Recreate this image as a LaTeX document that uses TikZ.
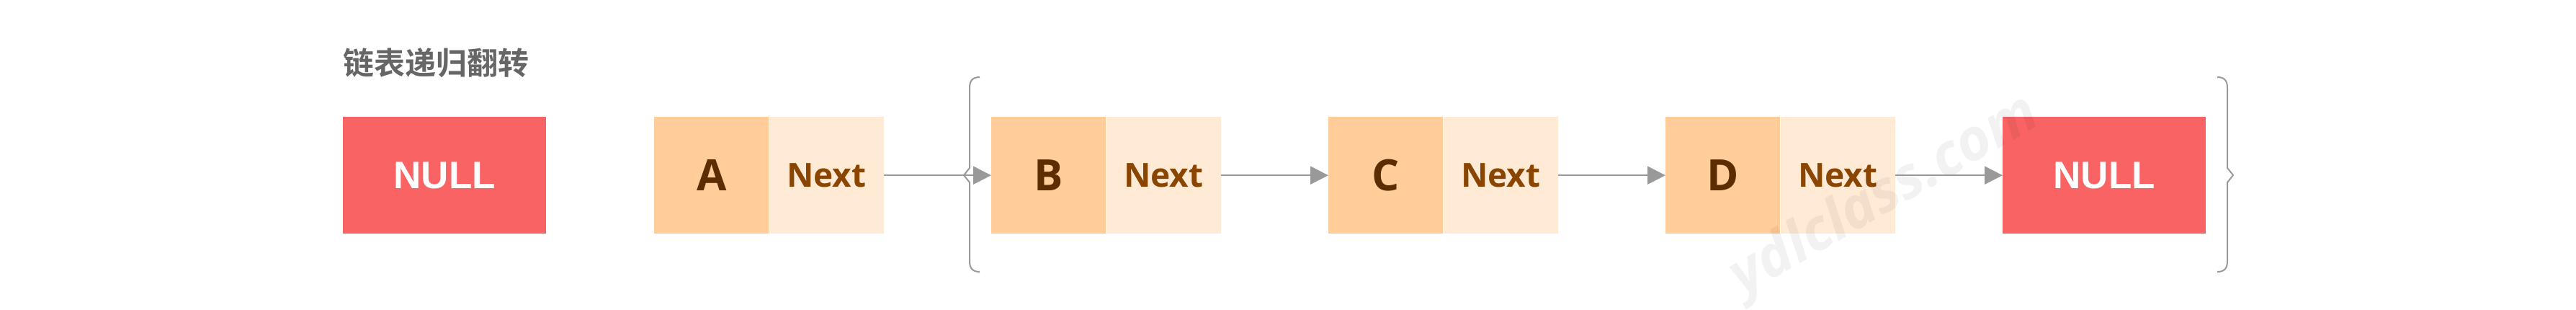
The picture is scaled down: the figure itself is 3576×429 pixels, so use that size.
\documentclass[tikz,border=0pt]{standalone}
\usepackage{fontspec}
\setmainfont{Open Sans}
\newfontfamily\cjkfont{Noto Sans CJK SC}[BoldFont=* Bold]
\newfontfamily\nulltextfont{Liberation Sans}
\usetikzlibrary{arrows.meta}
\definecolor{nullred}{HTML}{F96363}
\definecolor{keybg}{HTML}{FFCC9A}
\definecolor{nextbg}{HTML}{FFEAD6}
\definecolor{keytxt}{HTML}{5C2D00}
\definecolor{nexttxt}{HTML}{8A4500}
\definecolor{linegray}{HTML}{999999}
\definecolor{titlegray}{HTML}{666666}
\tikzset{
  keybox/.style={fill=keybg, draw=none, minimum width=159pt, minimum height=162pt, inner sep=0pt, anchor=north west, text=keytxt, font=\fontsize{60}{60}\selectfont\bfseries},
  nextbox/.style={fill=nextbg, draw=none, minimum width=159pt, minimum height=162pt, inner sep=0pt, anchor=west, text=nexttxt, font=\fontsize{46}{46}\selectfont\bfseries},
  nullbox/.style={fill=nullred, draw=none, minimum width=282pt, minimum height=162pt, inner sep=0pt, anchor=north west, text=white, font=\nulltextfont\fontsize{53}{53}\selectfont\bfseries},
  link/.style={draw=linegray, line width=2pt, -{Triangle[length=25pt, width=25pt]}},
  bracket/.style={draw=linegray, line width=2pt, line join=round},
}
\begin{document}
\begin{tikzpicture}[x=1pt, y=-1pt]
\useasboundingbox (0,0) rectangle (3576,429);
% title
\node[anchor=west, inner sep=0pt, text=titlegray, font=\cjkfont\fontsize{43}{43}\selectfont\bfseries] (title) at (476,87) {链表递归翻转};
% first NULL
\node[nullbox] (null1) at (476,162) {NULL};
% list nodes
\node[keybox] (a) at (908,162) {A};
\node[nextbox] (an) at (a.east) {Next};
\node[keybox] (b) at (1376,162) {B};
\node[nextbox] (bn) at (b.east) {Next};
\node[keybox] (c) at (1844,162) {C};
\node[nextbox] (cn) at (c.east) {Next};
\node[keybox] (d) at (2312,162) {D};
\node[nextbox] (dn) at (d.east) {Next};
\node[nullbox] (null2) at (2780,162) {NULL};
% watermark
\node[rotate=30, text=black, text opacity=0.05, font=\fontsize{80}{80}\selectfont\bfseries\itshape] (wm) at (2617,273) {ydlclass.com};
% links
\draw[link] (an.east) -- (b.west);
\draw[link] (bn.east) -- (c.west);
\draw[link] (cn.east) -- (d.west);
\draw[link] (dn.east) -- (null2.west);
% braces
\draw[bracket] (1360,107) .. controls (1350,107) and (1346,112) .. (1346,122) -- (1346,233) -- (1338,243) -- (1346,253) -- (1346,362) .. controls (1346,372) and (1350,377) .. (1360,377);
\draw[bracket] (3078,107) .. controls (3088,107) and (3092,112) .. (3092,122) -- (3092,233) -- (3100,243) -- (3092,253) -- (3092,362) .. controls (3092,372) and (3088,377) .. (3078,377);
\end{tikzpicture}
\end{document}
